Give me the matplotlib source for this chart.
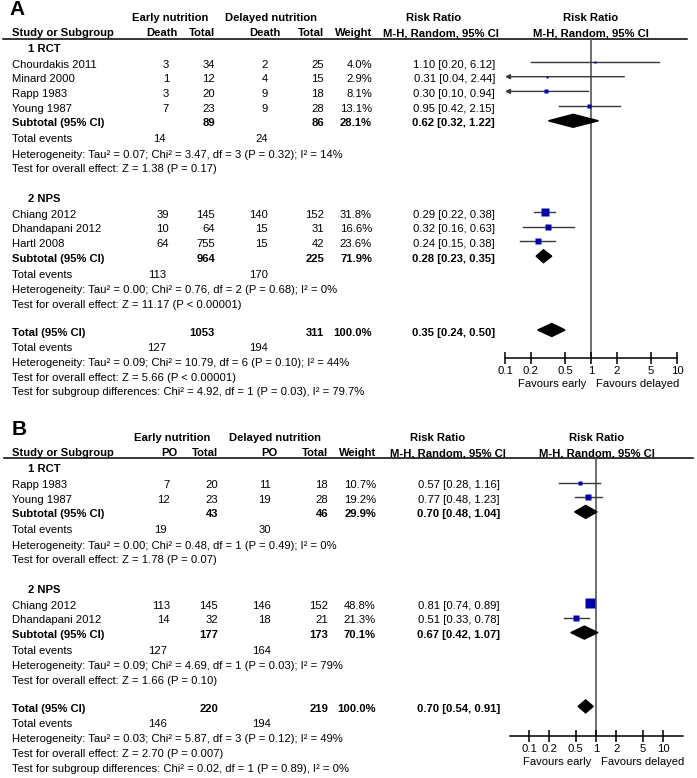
import matplotlib.pyplot as plt

plt.rcParams['font.family'] = ['Liberation Sans', 'DejaVu Sans']

W, H = 697, 778

# ---------------- panel A: mortality ----------------
a_rct_study = ["Chourdakis 2011", "Minard 2000", "Rapp 1983", "Young 1987"]
a_rct_early_ev = [3, 1, 3, 7]
a_rct_early_n = [34, 12, 20, 23]
a_rct_del_ev = [2, 4, 9, 9]
a_rct_del_n = [25, 15, 18, 28]
a_rct_weight = [4.0, 2.9, 8.1, 13.1]
a_rct_rr = [1.10, 0.31, 0.30, 0.95]
a_rct_lo = [0.20, 0.04, 0.10, 0.42]
a_rct_hi = [6.12, 2.44, 0.94, 2.15]
a_rct_totals = [89, 86]
a_rct_events = [14, 24]
a_rct_sub = [28.1, 0.62, 0.32, 1.22]
a_rct_het = "Heterogeneity: Tau² = 0.07; Chi² = 3.47, df = 3 (P = 0.32); I² = 14%"
a_rct_test = "Test for overall effect: Z = 1.38 (P = 0.17)"

a_nps_study = ["Chiang 2012", "Dhandapani 2012", "Hartl 2008"]
a_nps_early_ev = [39, 10, 64]
a_nps_early_n = [145, 64, 755]
a_nps_del_ev = [140, 15, 15]
a_nps_del_n = [152, 31, 42]
a_nps_weight = [31.8, 16.6, 23.6]
a_nps_rr = [0.29, 0.32, 0.24]
a_nps_lo = [0.22, 0.16, 0.15]
a_nps_hi = [0.38, 0.63, 0.38]
a_nps_totals = [964, 225]
a_nps_events = [113, 170]
a_nps_sub = [71.9, 0.28, 0.23, 0.35]
a_nps_het = "Heterogeneity: Tau² = 0.00; Chi² = 0.76, df = 2 (P = 0.68); I² = 0%"
a_nps_test = "Test for overall effect: Z = 11.17 (P < 0.00001)"

a_all_totals = [1053, 311]
a_all_events = [127, 194]
a_all = [100.0, 0.35, 0.24, 0.50]
a_all_het = "Heterogeneity: Tau² = 0.09; Chi² = 10.79, df = 6 (P = 0.10); I² = 44%"
a_all_test = "Test for overall effect: Z = 5.66 (P < 0.00001)"
a_all_sub = "Test for subgroup differences: Chi² = 4.92, df = 1 (P = 0.03), I² = 79.7%"

# ---------------- panel B: PO ----------------
b_rct_study = ["Rapp 1983", "Young 1987"]
b_rct_early_ev = [7, 12]
b_rct_early_n = [20, 23]
b_rct_del_ev = [11, 19]
b_rct_del_n = [18, 28]
b_rct_weight = [10.7, 19.2]
b_rct_rr = [0.57, 0.77]
b_rct_lo = [0.28, 0.48]
b_rct_hi = [1.16, 1.23]
b_rct_totals = [43, 46]
b_rct_events = [19, 30]
b_rct_sub = [29.9, 0.70, 0.48, 1.04]
b_rct_het = "Heterogeneity: Tau² = 0.00; Chi² = 0.48, df = 1 (P = 0.49); I² = 0%"
b_rct_test = "Test for overall effect: Z = 1.78 (P = 0.07)"

b_nps_study = ["Chiang 2012", "Dhandapani 2012"]
b_nps_early_ev = [113, 14]
b_nps_early_n = [145, 32]
b_nps_del_ev = [146, 18]
b_nps_del_n = [152, 21]
b_nps_weight = [48.8, 21.3]
b_nps_rr = [0.81, 0.51]
b_nps_lo = [0.74, 0.33]
b_nps_hi = [0.89, 0.78]
b_nps_totals = [177, 173]
b_nps_events = [127, 164]
b_nps_sub = [70.1, 0.67, 0.42, 1.07]
b_nps_het = "Heterogeneity: Tau² = 0.09; Chi² = 4.69, df = 1 (P = 0.03); I² = 79%"
b_nps_test = "Test for overall effect: Z = 1.66 (P = 0.10)"

b_all_totals = [220, 219]
b_all_events = [146, 194]
b_all = [100.0, 0.70, 0.54, 0.91]
b_all_het = "Heterogeneity: Tau² = 0.03; Chi² = 5.87, df = 3 (P = 0.12); I² = 49%"
b_all_test = "Test for overall effect: Z = 2.70 (P = 0.007)"
b_all_sub = "Test for subgroup differences: Chi² = 0.02, df = 1 (P = 0.89), I² = 0%"

tick_vals = [0.1, 0.2, 0.5, 1, 2, 5, 10]
tick_labels = ["0.1", "0.2", "0.5", "1", "2", "5", "10"]

FS = 8.1
BLUE = "#0000a8"
GREY = "#3a3a3a"


def make_groups(prefix):
    g = globals()
    out = []
    for name, label in [("rct", "1 RCT"), ("nps", "2 NPS")]:
        p = f"{prefix}_{name}_"
        out.append(dict(
            label=label, study=g[p + "study"], e_ev=g[p + "early_ev"],
            e_n=g[p + "early_n"], d_ev=g[p + "del_ev"], d_n=g[p + "del_n"],
            weight=g[p + "weight"], rr=g[p + "rr"], lo=g[p + "lo"], hi=g[p + "hi"],
            totals=g[p + "totals"], events=g[p + "events"], sub=g[p + "sub"],
            het=g[p + "het"], test=g[p + "test"]))
    return out


def draw_panel(bg, letter, ev_name, groups, overall, lay):
    c = lay["cols"]
    t = lambda x, y, s, **kw: bg.text(x, y, s, fontsize=FS, va="center", **kw)
    tb = lambda x, y, s, **kw: t(x, y, s, fontweight="bold", **kw)

    bg.text(lay["letter"][0], lay["letter"][1], letter, fontsize=15,
            fontweight="bold", va="center")
    y1, y2, yl = lay["hdr"]
    tb(c["early_c"], y1, "Early nutrition", ha="center")
    tb(c["del_c"], y1, "Delayed nutrition", ha="center")
    tb(c["rr_c"], y1, "Risk Ratio", ha="center")
    tb(c["plot_c"], y1, "Risk Ratio", ha="center")
    tb(12, y2, "Study or Subgroup")
    tb(c["e_ev_h"], y2, ev_name, ha="right")
    tb(c["e_n"], y2, "Total", ha="right")
    tb(c["d_ev_h"], y2, ev_name, ha="right")
    tb(c["d_n"], y2, "Total", ha="right")
    tb(c["w"], y2, "Weight", ha="right")
    tb(c["mh_c"], y2, "M-H, Random, 95% CI", ha="center")
    tb(c["plot_c"], y2, "M-H, Random, 95% CI", ha="center")
    bg.plot(lay["line_x"], [yl, yl], color="black", lw=1.1)

    x0, x1 = lay["plot_x"]
    ya = lay["axis_y"]
    fx = bg.figure.add_axes([x0 / W, 1 - ya / H, (x1 - x0) / W, (ya - yl) / H])
    fx.patch.set_visible(False)
    fx.set_xscale("log")
    fx.set_xlim(lay["xlim"])
    fx.set_ylim(ya, yl)
    for s in ["top", "left", "right"]:
        fx.spines[s].set_visible(False)
    fx.spines["bottom"].set_linewidth(1.1)
    fx.set_yticks([])
    fx.minorticks_off()
    fx.set_xticks(tick_vals)
    fx.set_xticklabels(tick_labels, fontsize=FS)
    fx.tick_params(axis="x", direction="inout", length=9, width=1.1, pad=1)
    fx.axvline(1, color="#555555", lw=1.2, zorder=1)
    xmin = lay["xlim"][0]
    off = 2.5

    def diamond(y, rr, lo, hi):
        fx.fill([lo, rr, hi, rr], [y - off, y - off - 6.5, y - off, y - off + 6.5],
                color="black", zorder=3)

    y = yl + lay["first"]
    for gi, g in enumerate(groups):
        tb(28, y, g["label"])
        y += 16
        for k in range(len(g["study"])):
            t(12, y, g["study"][k])
            t(c["e_ev"], y, str(g["e_ev"][k]), ha="right")
            t(c["e_n"], y, str(g["e_n"][k]), ha="right")
            t(c["d_ev"], y, str(g["d_ev"][k]), ha="right")
            t(c["d_n"], y, str(g["d_n"][k]), ha="right")
            t(c["w"], y, f"{g['weight'][k]:.1f}%", ha="right")
            t(c["rr_r"], y, f"{g['rr'][k]:.2f} [{g['lo'][k]:.2f}, {g['hi'][k]:.2f}]",
              ha="right")
            ym = y - off
            if g["lo"][k] <= xmin:
                fx.annotate("", xy=(xmin, ym), xytext=(g["hi"][k], ym),
                            arrowprops=dict(arrowstyle="-|>", color=GREY, lw=1,
                                            mutation_scale=7, shrinkA=0, shrinkB=0),
                            annotation_clip=False)
            else:
                fx.plot([g["lo"][k], g["hi"][k]], [ym, ym], color=GREY, lw=1, zorder=2)
            fx.plot(g["rr"][k], ym, marker="s", ms=0.95 * g["weight"][k] ** 0.5,
                    color=BLUE, mec="none", zorder=3)
            y += 14.7
        w, rr, lo, hi = g["sub"]
        tb(12, y, "Subtotal (95% CI)")
        tb(c["e_n"], y, str(g["totals"][0]), ha="right")
        tb(c["d_n"], y, str(g["totals"][1]), ha="right")
        tb(c["w"], y, f"{w:.1f}%", ha="right")
        tb(c["rr_r"], y, f"{rr:.2f} [{lo:.2f}, {hi:.2f}]", ha="right")
        diamond(y, rr, lo, hi)
        y += 16
        t(12, y, "Total events")
        t(c["te_e"], y, str(g["events"][0]), ha="right")
        t(c["d_ev"], y, str(g["events"][1]), ha="right")
        y += 15.2
        t(12, y, g["het"])
        y += 14.6
        t(12, y, g["test"])
        y += 29.5 if gi == 0 else 28

    w, rr, lo, hi = overall["vals"]
    tb(12, y, "Total (95% CI)")
    tb(c["e_n"], y, str(overall["totals"][0]), ha="right")
    tb(c["d_n"], y, str(overall["totals"][1]), ha="right")
    tb(c["w"], y, f"{w:.1f}%", ha="right")
    tb(c["rr_r"], y, f"{rr:.2f} [{lo:.2f}, {hi:.2f}]", ha="right")
    diamond(y, rr, lo, hi)
    y += 15.5
    t(12, y, "Total events")
    t(c["te_e"], y, str(overall["events"][0]), ha="right")
    t(c["d_ev"], y, str(overall["events"][1]), ha="right")
    y += 15
    t(12, y, overall["het"])
    y += 14.7
    t(12, y, overall["test"])
    y += 14.7
    t(12, y, overall["sub"])

    one = lay["one_x"]
    t(one - 5, lay["fav_y"], "Favours early", ha="right")
    t(one + 5, lay["fav_y"], "Favours delayed", ha="left")


fig = plt.figure(figsize=(W / 100, H / 100), dpi=100)
bg = fig.add_axes([0, 0, 1, 1])
bg.set_xlim(0, W)
bg.set_ylim(H, 0)
bg.axis("off")

lay_a = dict(
    letter=(9, 9), hdr=(18, 33, 39), line_x=[3, 687], first=9.5,
    cols=dict(early_c=170, del_c=271, rr_c=434, plot_c=591, e_ev_h=178,
              e_ev=169, te_e=166, e_n=215, d_ev_h=281, d_ev=268, d_n=324,
              w=372, mh_c=441, rr_r=495),
    plot_x=(505, 677), xlim=(0.1, 10), axis_y=358, one_x=591, fav_y=384)
draw_panel(bg, "A", "Death", make_groups("a"),
           dict(vals=a_all, totals=a_all_totals, events=a_all_events,
                het=a_all_het, test=a_all_test, sub=a_all_sub), lay_a)

lay_b = dict(
    letter=(12, 429), hdr=(438, 453, 458), line_x=[4, 693], first=11,
    cols=dict(early_c=172, del_c=275, rr_c=438, plot_c=597, e_ev_h=177,
              e_ev=170, te_e=167, e_n=218, d_ev_h=277, d_ev=271, d_n=328,
              w=376, mh_c=448, rr_r=500),
    plot_x=(510, 683), xlim=(0.052, 19.9), axis_y=736, one_x=596, fav_y=762)
draw_panel(bg, "B", "PO", make_groups("b"),
           dict(vals=b_all, totals=b_all_totals, events=b_all_events,
                het=b_all_het, test=b_all_test, sub=b_all_sub), lay_b)

fig.savefig("out.png", dpi=100)
